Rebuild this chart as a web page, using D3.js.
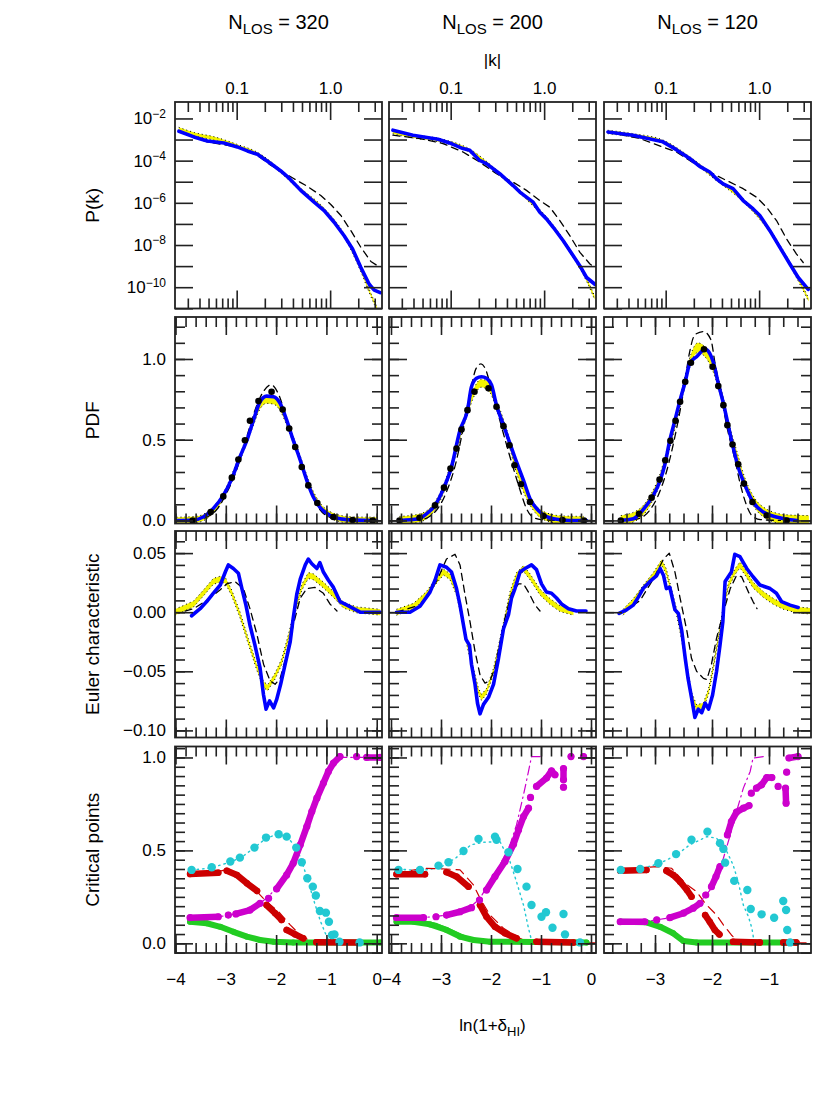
<!DOCTYPE html>
<html><head><meta charset="utf-8">
<script src="https://cdnjs.cloudflare.com/ajax/libs/d3/7.8.5/d3.min.js"></script>
<style>body{margin:0;background:#fff}svg{display:block}text{font-family:"Liberation Sans",Arial,sans-serif;fill:#000}</style>
</head><body><svg id="c" width="817" height="1104"></svg>
<script>
// ---------- labels ----------
const colTitles = ["320", "200", "120"];
const rowTitles = ["P(k)", "PDF", "Euler characteristic", "Critical points"];
const kMajorTicks = [0.1, 1];
const kMinorTicks = [0.03,0.04,0.05,0.06,0.07,0.08,0.09,0.2,0.3,0.4,0.5,0.6,0.7,0.8,0.9,2,3];
const pkLabelExps = [-2, -4, -6, -8, -10];
const lnMajorTicks = [[-4,-3,-2,-1,0],[-4,-3,-2,-1,0],[-3,-2,-1]];
const pdfLabels = [0, 0.5, 1.0];
const eulerLabels = [0.05, 0, -0.05, -0.10];
const cpLabels = [0, 0.5, 1.0];

// ---------- P(k): [log10 k, log10 P] ----------
const pkBlue320 = [[-1.618,-2.605],[-1.458,-2.876],[-1.314,-3.066],[-1.136,-3.16],[-0.993,-3.35],[-0.885,-3.54],[-0.778,-3.70],[-0.636,-4.14],[-0.528,-4.49],[-0.439,-4.83],[-0.314,-5.41],[-0.171,-5.97],[-0.064,-6.37],[0.043,-6.92],[0.150,-7.56],[0.240,-8.19],[0.329,-9.07],[0.418,-9.86],[0.472,-10.14],[0.536,-10.26]];
const pkDash320 = [[-1.618,-2.64],[-1.314,-3.11],[-0.993,-3.35],[-0.778,-3.75],[-0.636,-4.22],[-0.528,-4.49],[-0.386,-4.86],[-0.243,-5.22],[-0.1,-5.65],[0.007,-6.08],[0.115,-6.60],[0.222,-7.32],[0.329,-8.11],[0.436,-8.78],[0.536,-9.07]];
const pkYellow320 = [[-1.62,-2.5],[-1.45,-2.75],[-1.24,-2.95],[-1.0,-3.3],[-0.78,-3.68],[-0.53,-4.5],[-0.31,-5.4],[-0.06,-6.35],[0.15,-7.55],[0.33,-9.2],[0.42,-10.2],[0.5,-11.0]];
const pkBlue200 = [[-1.618,-2.557],[-1.404,-2.795],[-1.136,-2.985],[-1.011,-3.16],[-0.868,-3.43],[-0.796,-3.51],[-0.689,-3.99],[-0.617,-4.14],[-0.475,-4.62],[-0.332,-5.18],[-0.260,-5.49],[-0.189,-5.73],[-0.118,-5.97],[-0.046,-6.45],[0.025,-6.76],[0.097,-7.16],[0.204,-7.80],[0.311,-8.51],[0.383,-8.99],[0.454,-9.54],[0.543,-9.86]];
const pkDash200 = [[-1.618,-2.795],[-1.332,-2.95],[-1.082,-3.19],[-0.868,-3.59],[-0.689,-4.07],[-0.510,-4.62],[-0.332,-5.02],[-0.189,-5.41],[-0.046,-5.89],[0.061,-6.21],[0.168,-6.84],[0.275,-7.56],[0.383,-8.35],[0.490,-8.90],[0.543,-9.07]];
const pkYellow200 = [[-1.62,-2.65],[-1.4,-2.85],[-1.1,-3.05],[-0.8,-3.52],[-0.5,-4.55],[-0.2,-5.72],[0.1,-7.15],[0.3,-8.45],[0.45,-9.6],[0.54,-10.5]];
const pkBlue120 = [[-1.618,-2.64],[-1.350,-2.795],[-1.029,-3.11],[-0.886,-3.48],[-0.743,-3.90],[-0.636,-4.27],[-0.529,-4.54],[-0.457,-4.86],[-0.386,-5.10],[-0.279,-5.33],[-0.171,-5.89],[-0.064,-6.29],[0.007,-6.60],[0.115,-7.32],[0.222,-8.11],[0.329,-8.90],[0.418,-9.54],[0.525,-10.10]];
const pkDash120 = [[-1.618,-2.64],[-1.279,-2.95],[-0.886,-3.59],[-0.636,-4.30],[-0.386,-4.86],[-0.171,-5.33],[-0.029,-5.73],[0.079,-6.21],[0.186,-6.84],[0.293,-7.71],[0.400,-8.43],[0.472,-8.83]];
const pkYellow120 = [[-1.62,-2.64],[-1.35,-2.8],[-1.03,-3.1],[-0.74,-3.9],[-0.46,-4.86],[-0.17,-5.88],[0.11,-7.3],[0.33,-8.9],[0.45,-9.9],[0.53,-10.6]];

// ---------- PDF: [ln(1+delta), PDF] ----------
const pdfBlue320 = [[-3.98,0],[-3.64,0.003],[-3.45,0.021],[-3.25,0.073],[-3.05,0.155],[-2.88,0.259],[-2.72,0.393],[-2.58,0.497],[-2.45,0.621],[-2.32,0.735],[-2.19,0.770],[-2.05,0.766],[-1.92,0.725],[-1.79,0.621],[-1.66,0.497],[-1.52,0.373],[-1.39,0.248],[-1.26,0.145],[-1.13,0.083],[-0.93,0.031],[-0.73,0.010],[-0.46,0.002],[0.0,0]];
const pdfDots320 = [[-3.66,0],[-3.30,0.052],[-3.05,0.149],[-2.88,0.265],[-2.75,0.377],[-2.62,0.497],[-2.52,0.617],[-2.35,0.739],[-2.09,0.797],[-1.87,0.687],[-1.74,0.569],[-1.62,0.455],[-1.49,0.331],[-1.36,0.217],[-1.18,0.108],[-0.86,0.021],[-0.48,0.002],[-0.08,0]];
const pdfYellow320 = [[-3.98,0],[-3.6,0.005],[-3.3,0.05],[-3.05,0.15],[-2.88,0.265],[-2.72,0.39],[-2.58,0.50],[-2.45,0.61],[-2.32,0.71],[-2.19,0.745],[-2.05,0.74],[-1.92,0.70],[-1.79,0.61],[-1.66,0.50],[-1.52,0.38],[-1.39,0.26],[-1.26,0.16],[-1.13,0.09],[-0.93,0.035],[-0.73,0.012],[-0.46,0.002],[0.0,0]];
const pdfDash320 = [[-3.9,0],[-3.5,0.01],[-3.2,0.06],[-3.0,0.16],[-2.8,0.30],[-2.6,0.50],[-2.4,0.70],[-2.25,0.80],[-2.1,0.84],[-1.95,0.78],[-1.8,0.64],[-1.6,0.45],[-1.4,0.25],[-1.2,0.10],[-1.0,0.03],[-0.7,0.005],[0,0]];
const pdfBlue200 = [[-3.82,0],[-3.45,0.010],[-3.29,0.041],[-3.12,0.093],[-2.95,0.197],[-2.79,0.331],[-2.62,0.559],[-2.47,0.683],[-2.39,0.828],[-2.29,0.880],[-2.19,0.890],[-2.09,0.880],[-1.99,0.839],[-1.89,0.714],[-1.75,0.590],[-1.62,0.476],[-1.49,0.362],[-1.35,0.248],[-1.22,0.135],[-1.02,0.052],[-0.75,0.010],[-0.42,0],[-0.09,0]];
const pdfDots200 = [[-3.83,0],[-3.43,0.017],[-3.12,0.093],[-2.94,0.203],[-2.81,0.321],[-2.69,0.445],[-2.59,0.563],[-2.47,0.683],[-2.33,0.797],[-2.05,0.818],[-1.89,0.704],[-1.75,0.584],[-1.63,0.466],[-1.53,0.342],[-1.40,0.224],[-1.22,0.114],[-0.95,0.027],[-0.57,0.003],[-0.14,0]];
const pdfYellow200 = [[-3.83,0],[-3.43,0.015],[-3.12,0.09],[-2.94,0.20],[-2.81,0.32],[-2.69,0.445],[-2.59,0.56],[-2.47,0.68],[-2.33,0.80],[-2.2,0.85],[-2.05,0.83],[-1.89,0.72],[-1.75,0.60],[-1.63,0.48],[-1.53,0.36],[-1.40,0.24],[-1.22,0.12],[-0.95,0.03],[-0.57,0.003],[-0.14,0]];
const pdfDash200 = [[-3.8,0],[-3.4,0.005],[-3.1,0.06],[-2.9,0.17],[-2.7,0.36],[-2.55,0.58],[-2.4,0.82],[-2.3,0.94],[-2.2,0.97],[-2.1,0.93],[-2.0,0.82],[-1.85,0.65],[-1.7,0.48],[-1.55,0.32],[-1.4,0.17],[-1.3,0.08],[-1.2,0.03],[-1.0,0.005],[-0.5,0],[0,0]];
const pdfBlue120 = [[-3.61,0],[-3.38,0.010],[-3.26,0.046],[-3.15,0.093],[-3.03,0.155],[-2.91,0.248],[-2.83,0.342],[-2.74,0.497],[-2.65,0.621],[-2.56,0.745],[-2.47,0.859],[-2.39,0.973],[-2.27,1.014],[-2.12,1.060],[-2.04,1.035],[-1.98,0.983],[-1.89,0.849],[-1.80,0.725],[-1.71,0.580],[-1.63,0.455],[-1.54,0.331],[-1.42,0.217],[-1.28,0.114],[-1.10,0.052],[-0.87,0.021],[-0.63,0.004],[-0.51,0]];
const pdfDots120 = [[-3.60,0],[-3.28,0.041],[-3.06,0.141],[-2.92,0.253],[-2.82,0.373],[-2.73,0.493],[-2.64,0.617],[-2.56,0.735],[-2.47,0.859],[-2.37,0.977],[-2.14,1.060],[-1.99,0.952],[-1.89,0.832],[-1.80,0.714],[-1.73,0.590],[-1.64,0.470],[-1.54,0.348],[-1.44,0.228],[-1.29,0.114],[-1.04,0.031],[-0.69,0]];
const pdfYellow120 = [[-3.6,0],[-3.28,0.04],[-3.06,0.14],[-2.92,0.25],[-2.82,0.37],[-2.73,0.49],[-2.64,0.61],[-2.56,0.73],[-2.47,0.87],[-2.37,1.0],[-2.25,1.07],[-2.14,1.05],[-1.99,0.96],[-1.89,0.85],[-1.80,0.73],[-1.73,0.61],[-1.64,0.49],[-1.54,0.37],[-1.44,0.25],[-1.29,0.13],[-1.04,0.04],[-0.69,0.005],[-0.3,0]];
const pdfDash120 = [[-3.6,0],[-3.3,0.01],[-3.1,0.06],[-2.95,0.15],[-2.8,0.30],[-2.65,0.52],[-2.5,0.80],[-2.4,1.03],[-2.3,1.15],[-2.15,1.17],[-2.02,1.12],[-1.95,0.98],[-1.85,0.80],[-1.75,0.60],[-1.6,0.38],[-1.5,0.22],[-1.4,0.10],[-1.3,0.03],[-1.15,0.005],[-0.8,0]];

// ---------- Euler characteristic ----------
const eulerBlue320 = [[-3.68,-0.003],[-3.51,0.003],[-3.38,0.009],[-3.25,0.016],[-3.11,0.023],[-3.01,0.034],[-2.95,0.040],[-2.85,0.037],[-2.75,0.033],[-2.68,0.020],[-2.60,0.006],[-2.52,-0.011],[-2.42,-0.028],[-2.32,-0.047],[-2.25,-0.070],[-2.20,-0.082],[-2.13,-0.075],[-2.05,-0.081],[-1.99,-0.074],[-1.91,-0.061],[-1.82,-0.044],[-1.72,-0.025],[-1.66,-0.005],[-1.59,0.015],[-1.52,0.028],[-1.42,0.040],[-1.36,0.045],[-1.29,0.041],[-1.19,0.037],[-1.13,0.042],[-1.06,0.034],[-0.96,0.027],[-0.86,0.021],[-0.73,0.009],[-0.59,0.006],[-0.46,0.003],[-0.33,0.0],[0.07,0.0]];
const eulerYellow320 = [[-4.01,0],[-3.64,0.007],[-3.45,0.016],[-3.25,0.026],[-3.11,0.028],[-3.01,0.027],[-2.88,0.016],[-2.72,-0.002],[-2.55,-0.025],[-2.38,-0.047],[-2.25,-0.061],[-2.17,-0.064],[-2.02,-0.054],[-1.89,-0.042],[-1.76,-0.022],[-1.62,0.002],[-1.49,0.021],[-1.36,0.031],[-1.26,0.030],[-1.06,0.023],[-0.86,0.015],[-0.66,0.006],[-0.40,0.002],[0.07,0]];
const eulerDash320 = [[-3.81,0.001],[-3.64,0.003],[-3.38,0.010],[-3.11,0.019],[-2.98,0.024],[-2.82,0.026],[-2.65,0.020],[-2.52,0.003],[-2.38,-0.019],[-2.25,-0.044],[-2.12,-0.058],[-2.02,-0.061],[-1.92,-0.056],[-1.79,-0.036],[-1.66,-0.011],[-1.52,0.012],[-1.39,0.020],[-1.23,0.021],[-1.06,0.016],[-0.93,0.007],[-0.79,0.001]];
const eulerBlue200 = [[-3.89,0],[-3.62,0],[-3.42,0.005],[-3.22,0.017],[-3.12,0.027],[-3.02,0.040],[-2.89,0.038],[-2.79,0.034],[-2.69,0.020],[-2.62,0.006],[-2.55,-0.011],[-2.50,-0.023],[-2.43,-0.028],[-2.39,-0.044],[-2.32,-0.061],[-2.27,-0.077],[-2.22,-0.086],[-2.15,-0.078],[-2.05,-0.072],[-1.95,-0.061],[-1.85,-0.039],[-1.75,-0.014],[-1.65,-0.002],[-1.59,0.012],[-1.52,0.020],[-1.42,0.034],[-1.32,0.037],[-1.19,0.040],[-1.09,0.036],[-0.99,0.024],[-0.89,0.017],[-0.79,0.016],[-0.69,0.012],[-0.59,0.007],[-0.45,0.003],[-0.29,0.001],[-0.10,0.001]];
const eulerYellow200 = [[-3.89,0],[-3.55,0.005],[-3.29,0.015],[-3.09,0.027],[-2.95,0.034],[-2.82,0.030],[-2.69,0.017],[-2.59,-0.002],[-2.47,-0.028],[-2.35,-0.050],[-2.25,-0.067],[-2.19,-0.072],[-2.09,-0.067],[-1.95,-0.050],[-1.82,-0.025],[-1.72,-0.005],[-1.62,0.015],[-1.49,0.031],[-1.35,0.037],[-1.22,0.030],[-1.02,0.017],[-0.82,0.009],[-0.62,0.003],[-0.35,0]];
const eulerDash200 = [[-3.89,0],[-3.42,0.006],[-3.09,0.026],[-2.89,0.045],[-2.72,0.049],[-2.62,0.040],[-2.52,0.015],[-2.42,-0.008],[-2.32,-0.033],[-2.22,-0.053],[-2.12,-0.060],[-2.02,-0.058],[-1.92,-0.047],[-1.82,-0.025],[-1.72,-0.005],[-1.59,0.016],[-1.45,0.024],[-1.35,0.024],[-1.25,0.017],[-1.12,0.006],[-1.02,0.001]];
const eulerBlue120 = [[-3.63,-0.001],[-3.50,0.002],[-3.38,0.006],[-3.29,0.013],[-3.21,0.020],[-3.09,0.026],[-2.97,0.031],[-2.91,0.037],[-2.85,0.031],[-2.80,0.020],[-2.74,0.021],[-2.65,0.002],[-2.59,-0.001],[-2.53,-0.016],[-2.47,-0.039],[-2.42,-0.056],[-2.36,-0.072],[-2.30,-0.089],[-2.24,-0.082],[-2.18,-0.085],[-2.12,-0.077],[-2.06,-0.082],[-1.99,-0.070],[-1.92,-0.050],[-1.86,-0.028],[-1.81,-0.008],[-1.77,0.026],[-1.66,0.034],[-1.60,0.049],[-1.51,0.047],[-1.45,0.042],[-1.39,0.037],[-1.28,0.030],[-1.16,0.023],[-0.98,0.020],[-0.87,0.016],[-0.78,0.009],[-0.63,0.006],[-0.49,0.004]];
const eulerYellow120 = [[-3.56,0],[-3.38,0.009],[-3.21,0.020],[-3.03,0.031],[-2.88,0.042],[-2.80,0.034],[-2.71,0.017],[-2.62,0],[-2.53,-0.022],[-2.44,-0.047],[-2.36,-0.070],[-2.27,-0.081],[-2.15,-0.079],[-2.06,-0.067],[-1.98,-0.047],[-1.89,-0.022],[-1.80,0.003],[-1.71,0.023],[-1.60,0.034],[-1.51,0.040],[-1.42,0.034],[-1.28,0.023],[-1.10,0.015],[-0.92,0.009],[-0.75,0.005],[-0.52,0.002],[-0.28,0.001]];
const eulerDash120 = [[-3.56,0],[-3.26,0.010],[-3.03,0.028],[-2.85,0.045],[-2.75,0.050],[-2.65,0.034],[-2.56,0.012],[-2.44,-0.016],[-2.36,-0.039],[-2.27,-0.050],[-2.15,-0.056],[-2.09,-0.057],[-2.01,-0.044],[-1.92,-0.022],[-1.80,0],[-1.68,0.020],[-1.57,0.031],[-1.48,0.030],[-1.36,0.017],[-1.28,0.009],[-1.21,0.003]];

// ---------- Critical points (null = gap) ----------
const cpCyan320 = [[-3.68,0.395],[-3.28,0.409],[-2.91,0.440],[-2.72,0.461],[-2.43,0.515],[-2.20,0.569],[-1.95,0.587],[-1.79,0.574],[-1.60,0.515],[-1.49,0.436],[-1.38,0.350],[-1.27,0.305],[-1.21,0.257],[-1.13,0.174],[-1.01,0.165],[-0.95,0.116],[-0.89,0.045],[-0.84,0.048],[-0.74,0.009],[-0.34,0.005]];
const cpCyanModel320 = [[-3.68,0.395],[-3.3,0.405],[-3.0,0.43],[-2.7,0.46],[-2.43,0.515],[-2.2,0.565],[-2.0,0.585],[-1.8,0.575],[-1.6,0.52],[-1.49,0.44],[-1.38,0.35],[-1.25,0.23],[-1.12,0.12],[-1.0,0.04],[-0.93,0.005]];
const cpRed320 = [[-3.71,0.373],[-3.15,0.380],null,[-2.98,0.390],[-2.78,0.368],[-2.58,0.323],[-2.38,0.282],null,[-2.19,0.206],[-2.02,0.162],[-1.89,0.126],null,[-1.79,0.072],[-1.62,0.048],[-1.46,0.027],null,[-1.2,0.006],[-0.35,0.004]];
const cpRedModel320 = [[-3.71,0.380],[-3.15,0.386],[-3.01,0.395],[-2.72,0.368],[-2.38,0.278],[-2.19,0.224],[-1.95,0.170],[-1.72,0.099],[-1.52,0.045],[-1.32,0.012],[-1.1,0.003],[0.07,0.003]];
const cpMag320 = [[-3.71,0.138],[-3.15,0.143],null,[-2.95,0.152],null,[-2.8,0.158],[-2.52,0.179],[-2.32,0.215],null,[-2.15,0.242],null,[-1.99,0.293],[-1.79,0.368],[-1.66,0.431],[-1.52,0.530],[-1.39,0.628],[-1.29,0.709],[-1.19,0.781],[-1.06,0.862],[-0.96,0.925],[-0.86,0.970],[-0.73,1.005],null,[-0.40,1.005],null,[-0.20,1.0],[0.07,1.0]];
const cpMagModel320 = [[-3.71,0.138],[-3.15,0.143],[-2.72,0.160],[-2.32,0.215],[-2.12,0.260],[-1.86,0.350],[-1.66,0.458],[-1.46,0.583],[-1.26,0.727],[-1.06,0.871],[-0.93,0.952],[-0.79,1.0],[0.07,1.0]];
const cpGreen320 = [[-3.71,0.116],[-3.38,0.108],[-3.11,0.089],[-2.85,0.062],[-2.58,0.036],[-2.32,0.018],[-2.05,0.009],[-1.66,0.005],[0.07,0.005]];
const cpGreenModel320 = [[-3.71,0.124],[-3.38,0.114],[-3.11,0.097],[-2.85,0.070],[-2.58,0.043],[-2.32,0.022],[-2.05,0.010],[-1.66,0.005],[0.07,0.005]];

const cpCyan200 = [[-3.85,0.395],[-3.42,0.395],[-3.05,0.418],[-2.85,0.436],[-2.55,0.497],[-2.25,0.562],[-1.92,0.574],[-1.89,0.557],[-1.65,0.490],[-1.47,0.400],[-1.29,0.305],[-1.19,0.206],[-0.99,0.143],[-0.90,0.167],[-0.77,0.084],[-0.55,0.158],[-0.52,0.048],[-0.22,0.005]];
const cpCyanModel200 = [[-3.85,0.40],[-3.4,0.39],[-3.0,0.41],[-2.7,0.46],[-2.4,0.53],[-2.15,0.544],[-1.82,0.547],[-1.62,0.44],[-1.49,0.332],[-1.35,0.206],[-1.25,0.081],[-1.19,0.017],[-1.15,0.0]];
const cpRed200 = [[-3.89,0.372],[-3.32,0.372],null,[-2.89,0.383],[-2.69,0.359],[-2.45,0.305],null,[-2.22,0.206],[-2.09,0.143],[-1.92,0.089],[-1.72,0.054],[-1.49,0.027],null,[-1.09,0.009],[-0.35,0.005]];
const cpRedModel200 = [[-3.89,0.38],[-3.32,0.404],[-2.89,0.40],[-2.62,0.395],[-2.35,0.314],[-2.22,0.242],[-2.02,0.152],[-1.75,0.081],[-1.42,0.027],[-1.29,0.009],[-1.0,0.003],[0.1,0.003]];
const cpMag200 = [[-3.89,0.138],[-3.35,0.138],null,[-3.10,0.143],null,[-2.89,0.152],[-2.62,0.170],[-2.39,0.192],null,[-2.23,0.233],null,[-2.09,0.287],[-1.92,0.359],[-1.72,0.440],[-1.55,0.533],[-1.45,0.61],[-1.35,0.682],[-1.25,0.727],null,[-1.21,0.785],null,[-1.09,0.844],[-0.89,0.889],[-0.79,0.928],[-0.72,0.907],null,[-0.55,0.94],[-0.55,0.88],null,[-0.55,0.84],null,[-0.40,1.005],null,[-0.15,1.005]];
const cpMagModel200 = [[-3.89,0.138],[-3.35,0.138],[-2.89,0.152],[-2.43,0.190],[-2.22,0.242],[-2.02,0.332],[-1.82,0.422],[-1.62,0.530],[-1.49,0.637],[-1.35,0.799],[-1.25,0.925],[-1.19,1.005],[-1.0,1.005]];
const cpGreen200 = [[-3.89,0.116],[-3.55,0.116],[-3.22,0.102],[-2.89,0.072],[-2.62,0.036],[-2.35,0.018],[-2.02,0.009],[-0.09,0.005]];
const cpGreenModel200 = [[-3.89,0.122],[-3.4,0.124],[-3.1,0.108],[-2.8,0.075],[-2.5,0.038],[-2.2,0.016],[-1.9,0.007],[-0.09,0.005]];

const cpCyan120 = [[-3.60,0.395],[-3.26,0.400],[-2.94,0.431],[-2.63,0.480],[-2.36,0.557],[-2.08,0.601],[-1.86,0.539],[-1.80,0.508],[-1.77,0.434],[-1.61,0.336],[-1.38,0.287],[-1.32,0.185],[-1.13,0.156],[-0.91,0.138],[-0.75,0.228],[-0.70,0.179],[-0.68,0.072],[-0.63,0.005]];
const cpCyanModel120 = [[-3.60,0.395],[-3.26,0.40],[-2.91,0.431],[-2.62,0.476],[-2.39,0.530],[-2.09,0.574],[-1.92,0.566],[-1.74,0.494],[-1.63,0.422],[-1.54,0.332],[-1.45,0.206],[-1.36,0.143],[-1.30,0.081],[-1.28,0.045],[-1.26,0.0]];
const cpRed120 = [[-3.61,0.390],[-3.15,0.395],null,[-2.80,0.390],[-2.68,0.368],[-2.56,0.332],[-2.44,0.287],[-2.36,0.251],null,[-2.12,0.152],[-2.04,0.116],[-1.95,0.072],[-1.87,0.048],null,[-1.63,0.009],[-1.16,0.005],null,[-0.75,0.005],[-0.52,0.005]];
const cpRedModel120 = [[-3.61,0.395],[-2.97,0.413],[-2.71,0.404],[-2.47,0.323],[-2.27,0.278],[-2.12,0.215],[-1.92,0.152],[-1.80,0.099],[-1.66,0.045],[-1.57,0.018],[-1.45,0.003],[-0.26,0.003]];
const cpMag120 = [[-3.61,0.116],[-3.18,0.116],null,[-2.97,0.126],null,[-2.74,0.138],[-2.50,0.162],[-2.33,0.189],[-2.21,0.215],null,[-2.11,0.260],null,[-2.01,0.305],[-1.93,0.359],[-1.86,0.413],null,[-1.80,0.512],null,[-1.73,0.583],[-1.66,0.655],[-1.57,0.706],[-1.45,0.727],[-1.35,0.741],null,[-1.31,0.808],null,[-1.22,0.835],[-1.13,0.853],[-1.04,0.892],[-0.95,0.892],null,[-0.84,0.844],null,[-0.69,0.921],null,[-0.71,0.835],[-0.70,0.754],null,[-0.65,0.997],[-0.49,1.005]];
const cpMagModel120 = [[-3.61,0.116],[-3.18,0.116],[-2.74,0.138],[-2.40,0.18],[-2.15,0.242],[-2.01,0.296],[-1.92,0.368],[-1.80,0.458],[-1.68,0.583],[-1.57,0.709],[-1.45,0.835],[-1.33,0.925],[-1.28,0.997],[-1.10,1.005]];
const cpGreen120 = [[-3.61,0.116],[-3.15,0.113],[-2.91,0.089],[-2.68,0.054],[-2.50,0.012],[-2.27,0.005],[-0.52,0.005]];
const cpGreenModel120 = [[-3.61,0.122],[-3.15,0.12],[-2.9,0.095],[-2.7,0.062],[-2.5,0.022],[-2.3,0.007],[-0.52,0.005]];

// band half-widths
const pkBandHalf = 0.08, pdfBandHalf = [0.02, 0.025, 0.03], eulerBandHalf = 0.0025;

// ---------- layout ----------
const W = 207, H = 206.5;
const colX = [175, 389, 604], rowY = [102, 317, 531, 746.5];
const lnDomains = [[-4.01, 0.105], [-4.04, 0.10], [-3.895, -0.263]];
const lnMinorStep = [0.2, 0.2, 0.25];
const pkLogKDomain = [-1.66, 0.555], pkLogPDomain = [-11.01, -1.22];
const yDomains = [null, [-0.019, 1.26], [-0.106, 0.0687], [-0.052, 1.059]];

const C = { blue:"#0000ff", yellow:"#f4f400", cyan:"#22c8d2", red:"#cc0000", mag:"#cc00cc", green:"#22cc22" };
const svg = d3.select("#c");
const defs = svg.append("defs");

const pk = [[pkBlue320,pkDash320,pkYellow320],[pkBlue200,pkDash200,pkYellow200],[pkBlue120,pkDash120,pkYellow120]];
const pdf = [[pdfBlue320,pdfDots320,pdfYellow320,pdfDash320],[pdfBlue200,pdfDots200,pdfYellow200,pdfDash200],[pdfBlue120,pdfDots120,pdfYellow120,pdfDash120]];
const eul = [[eulerBlue320,eulerYellow320,eulerDash320],[eulerBlue200,eulerYellow200,eulerDash200],[eulerBlue120,eulerYellow120,eulerDash120]];
const cp = [
  {cyan:cpCyan320,cyanM:cpCyanModel320,red:cpRed320,redM:cpRedModel320,mag:cpMag320,magM:cpMagModel320,green:cpGreen320,greenM:cpGreenModel320},
  {cyan:cpCyan200,cyanM:cpCyanModel200,red:cpRed200,redM:cpRedModel200,mag:cpMag200,magM:cpMagModel200,green:cpGreen200,greenM:cpGreenModel200},
  {cyan:cpCyan120,cyanM:cpCyanModel120,red:cpRed120,redM:cpRedModel120,mag:cpMag120,magM:cpMagModel120,green:cpGreen120,greenM:cpGreenModel120}];

function rng(a, b, s){ const out=[]; for(let v=Math.ceil(a/s-1e-9)*s; v<=b+1e-9; v+=s) out.push(Math.round(v*1000)/1000); return out; }

function inwardTicks(p, xs, ys, xMaj, xMin, yMaj, yMin){
  const g = svg.append("g").attr("color","#222");
  const mk = (fn, sc, vals, size, tx, ty) => g.append("g").attr("transform",`translate(${tx},${ty})`)
      .call(fn(sc).tickValues(vals).tickSize(size).tickFormat(""))
      .call(s=>{ s.select(".domain").remove(); s.selectAll("line").attr("stroke-width",1.6); });
  mk(d3.axisTop, xs, xMin, 10, 0, p.y+H); mk(d3.axisTop, xs, xMaj, 18, 0, p.y+H);
  mk(d3.axisBottom, xs, xMin, 10, 0, p.y); mk(d3.axisBottom, xs, xMaj, 18, 0, p.y);
  mk(d3.axisRight, ys, yMin, 10, p.x, 0); mk(d3.axisRight, ys, yMaj, 18, p.x, 0);
  mk(d3.axisLeft, ys, yMin, 10, p.x+W, 0); mk(d3.axisLeft, ys, yMaj, 18, p.x+W, 0);
}
function frame(p){
  svg.append("rect").attr("x",p.x).attr("y",p.y).attr("width",W).attr("height",H)
    .attr("fill","none").attr("stroke","#222").attr("stroke-width",1.8);
}
function clipG(c, r, p){
  const id = `clip${c}${r}`;
  defs.append("clipPath").attr("id",id).append("rect").attr("x",p.x).attr("y",p.y).attr("width",W).attr("height",H);
  return svg.append("g").attr("clip-path",`url(#${id})`);
}
function styleLabels(s, size){
  s.select(".domain").remove();
  s.attr("font-family",null).attr("font-size",null);
  s.selectAll("text").attr("font-size",size).attr("fill","#000");
}
function band(g, data, X, Y, hw, curve){
  const area = d3.area().x(d=>X(d[0])).y0(d=>Y(d[1]-hw)).y1(d=>Y(d[1]+hw)).curve(curve);
  g.append("path").attr("d",area(data)).attr("fill",C.yellow);
  [-hw, hw].forEach(o=>{
    g.append("path").attr("d", d3.line().x(d=>X(d[0])).y(d=>Y(d[1]+o)).curve(curve)(data))
      .attr("fill","none").attr("stroke","#000").attr("stroke-width",1).attr("stroke-dasharray","1,3");
  });
}
function line(g, data, X, Y, stroke, width, dash, curve){
  const gen = d3.line().defined(d=>d!=null).x(d=>X(d[0])).y(d=>Y(d[1])).curve(curve||d3.curveLinear);
  const path = g.append("path").attr("d",gen(data)).attr("fill","none").attr("stroke",stroke)
    .attr("stroke-width",width).attr("stroke-linejoin","round").attr("stroke-linecap","round");
  if(dash) path.attr("stroke-dasharray",dash);
  return path;
}
function dots(g, data, X, Y, fill, r){
  g.selectAll(null).data(data.filter(d=>d!=null)).join("circle")
    .attr("cx",d=>X(d[0])).attr("cy",d=>Y(d[1])).attr("r",r).attr("fill",fill);
}

for(let c=0;c<3;c++){
  // ---- row 0: P(k)
  {
    const p={x:colX[c],y:rowY[0]};
    const xs=d3.scaleLog().domain(pkLogKDomain.map(v=>Math.pow(10,v))).range([p.x,p.x+W]);
    const ys=d3.scaleLog().domain(pkLogPDomain.map(v=>Math.pow(10,v))).range([p.y+H,p.y]);
    const X=v=>xs(Math.pow(10,v)), Y=v=>ys(Math.pow(10,v));
    const g=clipG(c,0,p);
    const [blue,dash,yel]=pk[c];
    band(g,yel,X,Y,pkBandHalf,d3.curveMonotoneX);
    line(g,dash,X,Y,"#000",1.3,"7,5");
    line(g,blue,X,Y,C.blue,3.6);
    const decades=d3.range(-11,-1).map(e=>Math.pow(10,e));
    inwardTicks(p,xs,ys,kMajorTicks,kMinorTicks,decades,[]);
    frame(p);
    svg.append("g").attr("transform",`translate(0,${p.y})`)
      .call(d3.axisTop(xs).tickValues(kMajorTicks).tickSize(0).tickPadding(8).tickFormat(d3.format(".1f")))
      .call(s=>styleLabels(s,17));
    if(c===0){
      const gl=svg.append("g").attr("transform",`translate(${p.x},0)`)
        .call(d3.axisLeft(ys).tickValues(pkLabelExps.map(e=>Math.pow(10,e))).tickSize(0).tickPadding(9).tickFormat(""))
        .call(s=>styleLabels(s,17));
      gl.selectAll(".tick text").each(function(d){
        const t=d3.select(this); const e=Math.round(Math.log10(d));
        t.text("10"); t.append("tspan").attr("dy","-0.55em").attr("font-size",12).text("\u2212"+Math.abs(e));
      });
    }
  }
  // ---- rows 1..3
  for(let r=1;r<4;r++){
    const p={x:colX[c],y:rowY[r]};
    const xs=d3.scaleLinear().domain(lnDomains[c]).range([p.x,p.x+W]);
    const ys=d3.scaleLinear().domain(yDomains[r]).range([p.y+H,p.y]);
    const X=v=>xs(v), Y=v=>ys(v);
    const g=clipG(c,r,p);
    let yMaj,yMin,labels,fmt;
    if(r===1){
      const [blue,dt,yel,dash]=pdf[c];
      band(g,yel,X,Y,pdfBandHalf[c],d3.curveMonotoneX);
      line(g,dash,X,Y,"#000",1.3,"7,5",d3.curveMonotoneX);
      line(g,blue,X,Y,C.blue,3.6,null,d3.curveMonotoneX);
      dots(g,dt,X,Y,"#000",3.3);
      yMaj=[0,0.5,1.0]; yMin=rng(yDomains[1][0],yDomains[1][1],0.1); labels=pdfLabels; fmt=d3.format(".1f");
    } else if(r===2){
      const [blue,yel,dash]=eul[c];
      band(g,yel,X,Y,eulerBandHalf,d3.curveLinear);
      line(g,dash,X,Y,"#000",1.3,"7,5");
      line(g,blue,X,Y,C.blue,3.6);
      yMaj=[-0.1,-0.05,0,0.05]; yMin=rng(yDomains[2][0],yDomains[2][1],0.01); labels=eulerLabels; fmt=d3.format(".2f");
    } else {
      const d=cp[c];
      line(g,d.cyanM,X,Y,C.cyan,1.4,"1.5,4");
      line(g,d.redM,X,Y,C.red,1.2,"9,6");
      line(g,d.magM,X,Y,C.mag,1.2,"9,4,1.5,4");
      line(g,d.greenM,X,Y,C.green,1.1);
      line(g,d.green,X,Y,C.green,6); dots(g,d.green,X,Y,C.green,3);
      line(g,d.red,X,Y,C.red,6.5); dots(g,d.red,X,Y,C.red,3.25);
      line(g,d.mag,X,Y,C.mag,6.5); dots(g,d.mag,X,Y,C.mag,3.6);
      dots(g,d.cyan,X,Y,C.cyan,4.2);
      yMaj=[0,0.5,1.0]; yMin=rng(yDomains[3][0],yDomains[3][1],0.05); labels=cpLabels; fmt=d3.format(".1f");
    }
    const xMaj=lnMajorTicks[c].filter(v=>v>=lnDomains[c][0]&&v<=lnDomains[c][1]);
    const xMin=rng(lnDomains[c][0],lnDomains[c][1],lnMinorStep[c]);
    inwardTicks(p,xs,ys,xMaj,xMin,yMaj,yMin);
    frame(p);
    if(c===0){
      svg.append("g").attr("transform",`translate(${p.x},0)`)
        .call(d3.axisLeft(ys).tickValues(labels).tickSize(0).tickPadding(9).tickFormat(fmt))
        .call(s=>styleLabels(s,17));
    }
    if(r===3){
      svg.append("g").attr("transform",`translate(0,${p.y+H})`)
        .call(d3.axisBottom(xs).tickValues(lnMajorTicks[c]).tickSize(0).tickPadding(20).tickFormat(d3.format("d")))
        .call(s=>styleLabels(s,17));
    }
  }
  // column title
  const t=svg.append("text").attr("x",colX[c]+W/2).attr("y",29).attr("text-anchor","middle").attr("font-size",20);
  t.append("tspan").text("N");
  t.append("tspan").attr("font-size",15).attr("dy",5).text("LOS");
  t.append("tspan").attr("dy",-5).text(" = "+colTitles[c]);
}
// |k|
svg.append("text").attr("x",colX[1]+W/2).attr("y",66).attr("text-anchor","middle").attr("font-size",17).text("|k|");
// row titles
rowTitles.forEach((s,r)=>{
  svg.append("text").attr("transform",`translate(99,${rowY[r]+H/2}) rotate(-90)`)
    .attr("text-anchor","middle").attr("font-size",19).text(s);
});
// x title
const xt=svg.append("text").attr("x",colX[1]+W/2).attr("y",1031).attr("text-anchor","middle").attr("font-size",17);
xt.append("tspan").text("ln(1+\u03b4");
xt.append("tspan").attr("font-size",13).attr("dy",5).text("HI");
xt.append("tspan").attr("dy",-5).text(")");
</script></body></html>
